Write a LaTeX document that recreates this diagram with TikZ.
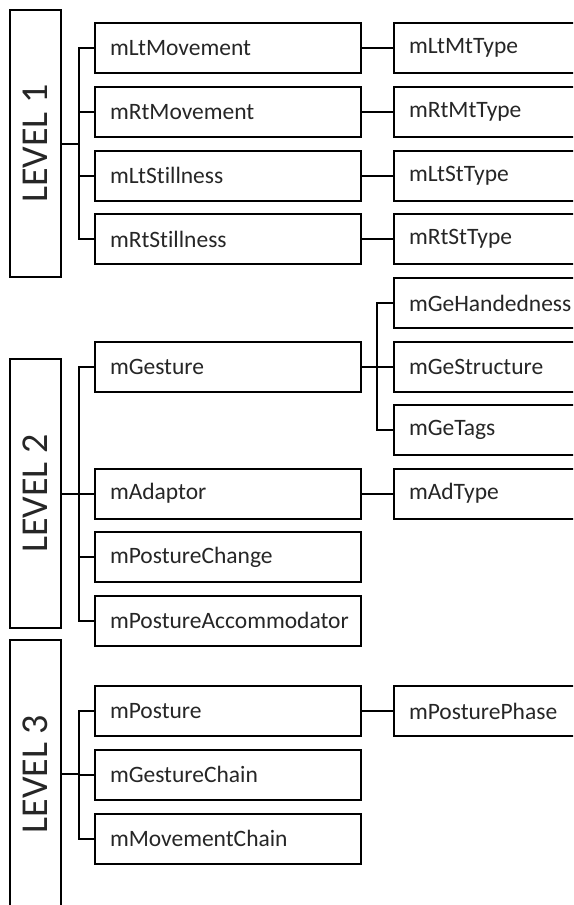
\documentclass[tikz,border=0pt]{standalone}
\usepackage{fontspec}
\setmainfont{Carlito}[Ligatures={NoCommon}]
\definecolor{txt}{HTML}{262626}
\begin{document}
\begin{tikzpicture}[x=1pt,y=-1pt,
  every node/.style={font=\fontsize{23.5}{26}\selectfont, text=txt},
  lvl/.style={draw=black, line width=2pt, minimum width=51pt, inner sep=0pt,
    font=\fontsize{38}{40}\selectfont},
  item/.style={draw=black, line width=2pt, minimum width=266pt, minimum height=50pt,
    text width=236pt, inner xsep=15pt, inner ysep=0pt, align=left},
  sub/.style={draw=black, line width=2pt, minimum width=196pt, minimum height=50pt,
    text width=166pt, inner xsep=15pt, inner ysep=0pt, align=left},
  link/.style={draw=black, line width=2pt}]
\clip (0,0) rectangle (573,905);
\fill[white] (0,0) rectangle (573,905);

% LEVEL 1
\node[lvl, minimum height=267pt] (L1) at (35.5,143.5) {};
\node[rotate=90, font=\fontsize{38}{40}\selectfont] (L1t) at (L1.center) {LEVEL 1};
\node[item] (a1) at (228,48) {mLtMovement};
\node[item] (a2) at (228,112) {mRtMovement};
\node[item] (a3) at (228,175.5) {mLtStillness};
\node[item] (a4) at (228,239) {mRtStillness};
\node[sub] (s1) at (492,48) {mLtMtType};
\node[sub] (s2) at (492,112) {mRtMtType};
\node[sub] (s3) at (492,175.5) {mLtStType};
\node[sub] (s4) at (492,239) {mRtStType};
\coordinate (b1) at (79,143.5);
\draw[link] (L1.east) -- (b1);
\foreach \n in {a1,a2,a3,a4} \draw[link] (b1) |- (\n.west);
\draw[link] (a1) -- (s1);
\draw[link] (a2) -- (s2);
\draw[link] (a3) -- (s3);
\draw[link] (a4) -- (s4);

% LEVEL 2
\node[lvl, minimum height=269pt] (L2) at (35.5,493.5) {};
\node[rotate=90, font=\fontsize{38}{40}\selectfont] (L2t) at (L2.center) {LEVEL 2};
\node[item] (c1) at (228,366.5) {mGesture};
\node[item] (c2) at (228,493.5) {mAdaptor};
\node[item] (c3) at (228,557) {mPostureChange};
\node[item] (c4) at (228,620.5) {mPostureAccommodator};
\node[sub] (g1) at (492,303) {mGeHandedness};
\node[sub] (g2) at (492,366.5) {mGeStructure};
\node[sub] (g3) at (492,430) {mGeTags};
\node[sub] (d1) at (492,493.5) {mAdType};
\coordinate (b2) at (79,493.5);
\draw[link] (L2.east) -- (b2);
\foreach \n in {c1,c2,c3,c4} \draw[link] (b2) |- (\n.west);
\coordinate (gb) at (377,366.5);
\draw[link] (c1.east) -- (gb);
\foreach \n in {g1,g2,g3} \draw[link] (gb) |- (\n.west);
\draw[link] (c2) -- (d1);

% LEVEL 3
\node[lvl, minimum height=268pt] (L3) at (35.5,774) {};
\node[rotate=90, font=\fontsize{38}{40}\selectfont] (L3t) at (L3.center) {LEVEL 3};
\node[item] (e1) at (228,711) {mPosture};
\node[item] (e2) at (228,774.5) {mGestureChain};
\node[item] (e3) at (228,838.5) {mMovementChain};
\node[sub] (p1) at (492,711) {mPosturePhase};
\coordinate (b3) at (79,774);
\draw[link] (L3.east) -- (b3);
\foreach \n in {e1,e2,e3} \draw[link] (b3) |- (\n.west);
\draw[link] (e1) -- (p1);
\end{tikzpicture}
\end{document}
